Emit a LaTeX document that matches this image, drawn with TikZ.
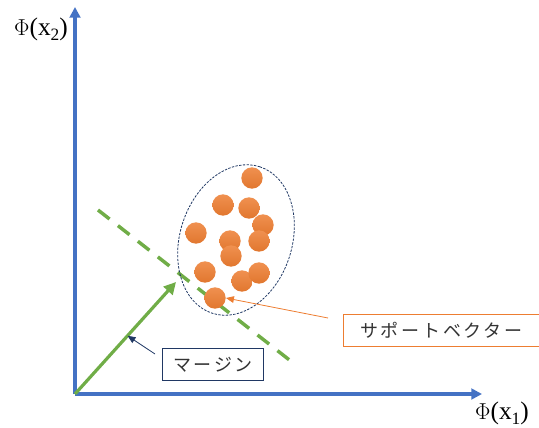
\documentclass[tikz,border=0pt]{standalone}
\usepackage{fontspec}
\setmainfont{Liberation Serif}
\newfontfamily\jpfont[LetterSpace=15]{Noto Sans CJK JP}
\usetikzlibrary{arrows.meta,positioning,calc}
\definecolor{axblue}{RGB}{68,114,196}
\definecolor{vgreen}{RGB}{112,173,71}
\definecolor{porange}{RGB}{237,125,49}
\definecolor{navy}{RGB}{32,56,100}
\newcommand{\phix}[1]{$\Phi$(x\raisebox{-0.45ex}{\fontsize{13}{13}\selectfont #1})}

\tikzset{
  axis/.style={axblue, line width=2.4pt, -{Triangle[length=8pt,width=8pt]}},
  pt/.style={circle, minimum size=16pt, inner sep=0pt,
    top color=porange!85!white, bottom color=porange!95!black, draw=none},
  tag/.style={draw, line width=0.6pt, fill=white, minimum width=#1, minimum height=24pt,
    inner sep=0pt, font=\jpfont\fontsize{13.5}{13.5}\selectfont, text=black!80},
}

\begin{document}
\begin{tikzpicture}[x=0.75pt, y=-0.75pt]
  \useasboundingbox (0,0) rectangle (539,428);
  % axes
  \coordinate (o) at (75,394);
  \coordinate (ytip) at (75,7);
  \coordinate (xtip) at (482,394);
  \draw[axis] (o) -- (ytip);
  \draw[axis] (o) -- (xtip);
  \node[font=\fontsize{19}{19}\selectfont] (ylab) at (41,29) {\phix{2}};
  \node[font=\fontsize{19}{19}\selectfont] (xlab) at (502,413) {\phix{1}};
  % separating line and weight vector
  \coordinate (s1) at (98,210);
  \coordinate (s2) at (292,362);
  \draw[vgreen, line width=2.6pt, dash pattern=on 11pt off 8pt] (s1) -- (s2);
  \coordinate (w) at (176,282);
  \draw[vgreen, line width=2.4pt, -{Triangle[length=9pt,width=9pt]}] (o) -- (w);
  % data points
  \foreach \i/\px/\py in {1/252/178, 2/223/205, 3/249/208, 4/263/225, 5/196/233,
      6/230/241, 7/259/241, 8/231/256, 9/205/272, 10/242/281, 11/259/273, 12/215/298}
    \node[pt] (p\i) at (\px,\py) {};
  \draw[navy, line width=0.6pt, dash pattern=on 1.8pt off 1pt, rotate around={72:(236,240)}]
    (236,240) ellipse [x radius=77, y radius=56];
  % labels
  \node[tag=147pt, draw=porange, anchor=north west] (sv) at (343,314) {サポートベクター};
  \coordinate (svtail) at (328,318);
  \draw[porange, line width=0.6pt, -{Triangle[length=6pt,width=5pt]}] (svtail) -- (p12.east);
  \node[tag=76pt, draw=navy, anchor=north west] (mg) at (162,348) {マージン};
  \coordinate (mtail) at (155,354);
  \coordinate (mhead) at ($(o)!0.52!(w)$);
  \draw[navy, line width=0.6pt, -{Triangle[length=6pt,width=5pt]}] (mtail) -- (mhead);
\end{tikzpicture}
\end{document}
